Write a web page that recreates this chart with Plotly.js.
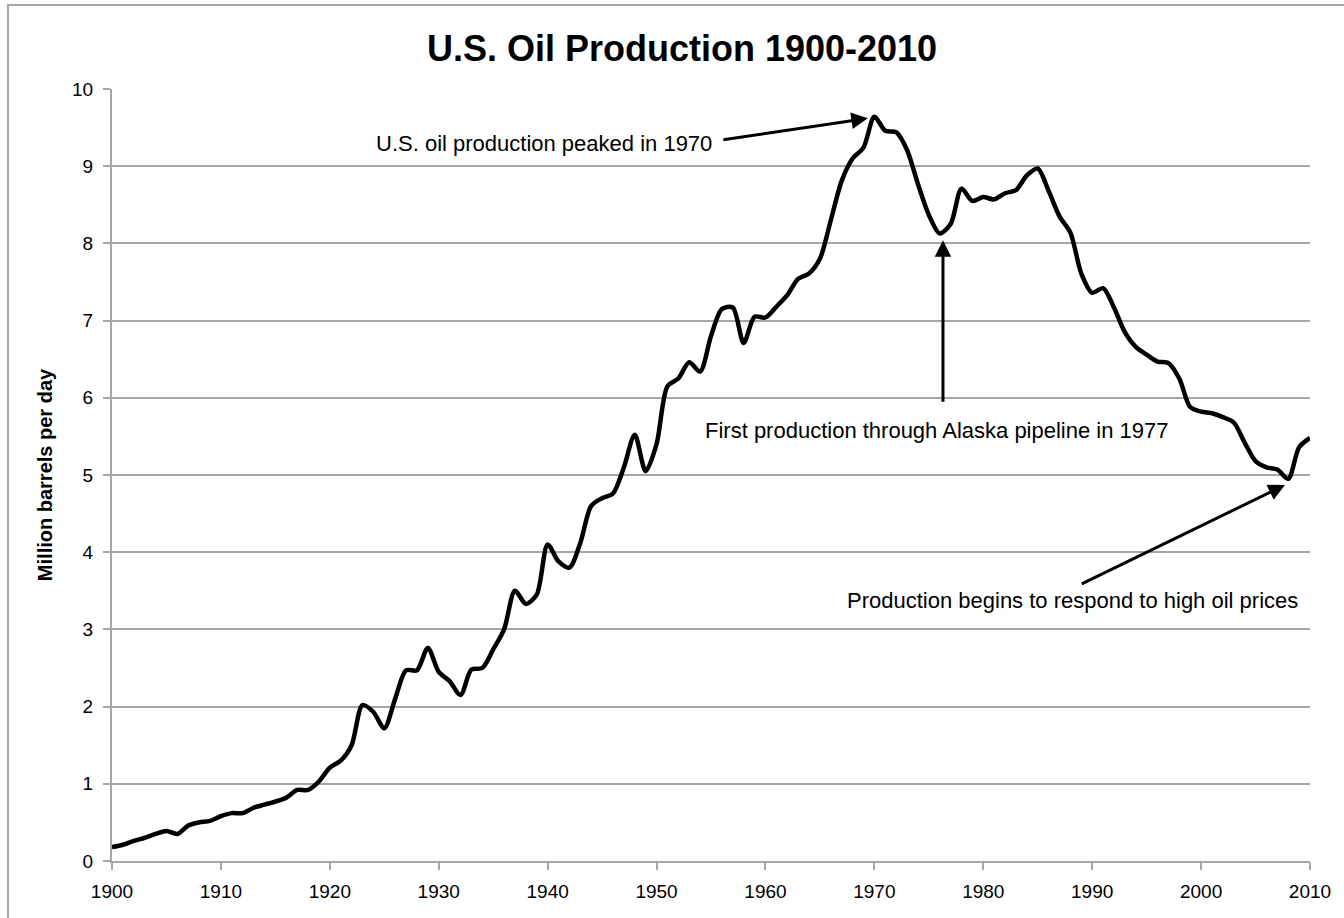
<!DOCTYPE html>
<html>
<head>
<meta charset="utf-8">
<script src="https://cdn.plot.ly/plotly-3.0.1.min.js"></script>
<style>
  html, body { margin: 0; padding: 0; background: #ffffff; }
  #chart { width: 1344px; height: 918px; }
</style>
</head>
<body>
<div id="chart"></div>
<script>
// Years 1900-2010
const years = [
  1900,1901,1902,1903,1904,1905,1906,1907,1908,1909,
  1910,1911,1912,1913,1914,1915,1916,1917,1918,1919,
  1920,1921,1922,1923,1924,1925,1926,1927,1928,1929,
  1930,1931,1932,1933,1934,1935,1936,1937,1938,1939,
  1940,1941,1942,1943,1944,1945,1946,1947,1948,1949,
  1950,1951,1952,1953,1954,1955,1956,1957,1958,1959,
  1960,1961,1962,1963,1964,1965,1966,1967,1968,1969,
  1970,1971,1972,1973,1974,1975,1976,1977,1978,1979,
  1980,1981,1982,1983,1984,1985,1986,1987,1988,1989,
  1990,1991,1992,1993,1994,1995,1996,1997,1998,1999,
  2000,2001,2002,2003,2004,2005,2006,2007,2008,2009,
  2010
];
// Million barrels per day
const production = [
  0.18,0.21,0.26,0.30,0.35,0.39,0.35,0.46,0.50,0.52,
  0.58,0.62,0.62,0.69,0.73,0.77,0.82,0.92,0.92,1.03,
  1.21,1.30,1.50,2.02,1.93,1.72,2.10,2.47,2.47,2.76,
  2.45,2.33,2.15,2.48,2.50,2.74,3.00,3.50,3.33,3.45,
  4.10,3.88,3.80,4.12,4.60,4.70,4.76,5.10,5.52,5.05,
  5.40,6.15,6.25,6.46,6.34,6.80,7.15,7.17,6.71,7.05,
  7.04,7.18,7.33,7.54,7.61,7.80,8.30,8.81,9.10,9.24,
  9.64,9.46,9.44,9.21,8.77,8.37,8.13,8.25,8.71,8.55,
  8.60,8.57,8.65,8.69,8.88,8.97,8.68,8.35,8.14,7.61,
  7.36,7.42,7.17,6.85,6.66,6.56,6.47,6.45,6.25,5.88,
  5.82,5.80,5.75,5.68,5.42,5.18,5.10,5.07,4.95,5.36,
  5.48
];
const xTickVals = [1900,1910,1920,1930,1940,1950,1960,1970,1980,1990,2000,2010];
const yTickVals = [0,1,2,3,4,5,6,7,8,9,10];

const titleText = "U.S. Oil Production 1900-2010";
const yTitleText = "Million barrels per day";
const note1 = "U.S. oil production peaked in 1970";
const note2 = "First production through Alaska pipeline in 1977";
const note3 = "Production begins to respond to high oil prices";

const FONT = "Liberation Sans, Arial, Helvetica, sans-serif";
const GRID = "#a6a6a6";

const trace = {
  x: years,
  y: production,
  type: "scatter",
  mode: "lines",
  line: { color: "#000000", width: 4.5, shape: "spline", smoothing: 0.8 },
  hoverinfo: "x+y",
  showlegend: false
};

function arrow(xh, yh, xt, yt) {
  return {
    x: xh, y: yh, xref: "x", yref: "y",
    ax: xt, ay: yt, axref: "x", ayref: "y",
    text: "", showarrow: true,
    arrowhead: 2, arrowsize: 1.1, arrowwidth: 3, arrowcolor: "#000000",
    standoff: 0, startstandoff: 0
  };
}

const layout = {
  width: 1344, height: 918,
  paper_bgcolor: "#ffffff",
  plot_bgcolor: "#ffffff",
  margin: { l: 112, r: 34, t: 89, b: 57, pad: 0 },
  font: { family: FONT, color: "#000000", size: 18 },
  title: {
    text: "<b>" + titleText + "</b>",
    font: { family: FONT, size: 36, color: "#000000" },
    x: 682 / 1344, xanchor: "center", xref: "container",
    y: 1 - 48 / 918, yanchor: "middle", yref: "container"
  },
  xaxis: {
    range: [1900, 2010],
    tickmode: "array", tickvals: xTickVals, ticktext: xTickVals.map(String),
    showgrid: false, zeroline: false,
    showline: true, linecolor: GRID, linewidth: 2,
    ticks: "outside", ticklen: 7, tickwidth: 2, tickcolor: GRID,
    tickfont: { family: FONT, size: 19, color: "#000000" },
    ticklabelstandoff: 5,
    fixedrange: true
  },
  yaxis: {
    range: [0, 10],
    tickmode: "array", tickvals: yTickVals, ticktext: yTickVals.map(String),
    showgrid: true, gridcolor: GRID, gridwidth: 1.5,
    zeroline: false,
    showline: true, linecolor: GRID, linewidth: 2,
    ticks: "outside", ticklen: 7, tickwidth: 2, tickcolor: GRID,
    tickfont: { family: FONT, size: 19, color: "#000000" },
    ticklabelstandoff: 6,
    title: {
      text: "<b>" + yTitleText + "</b>",
      font: { family: FONT, size: 20, color: "#000000" },
      standoff: 14
    },
    fixedrange: true
  },
  shapes: [
    {
      type: "rect", xref: "paper", yref: "paper",
      x0: -104 / 1198, x1: 1.04, y0: -0.09, y1: 1 + 84 / 772,
      line: { color: "#a8a8a8", width: 2 }, fillcolor: "rgba(0,0,0,0)", layer: "below"
    }
  ],
  annotations: [
    {
      x: 1955.3, y: 9.30, xref: "x", yref: "y",
      text: note1, showarrow: false, xanchor: "right", yanchor: "middle",
      font: { family: FONT, size: 22, color: "#000000" }
    },
    arrow(1969.4, 9.62, 1956.0, 9.34),
    {
      x: 1975.76, y: 5.58, xref: "x", yref: "y",
      text: note2, showarrow: false, xanchor: "center", yanchor: "middle",
      font: { family: FONT, size: 22, color: "#000000" }
    },
    arrow(1976.3, 8.04, 1976.3, 5.93),
    {
      x: 1988.2, y: 3.38, xref: "x", yref: "y",
      text: note3, showarrow: false, xanchor: "center", yanchor: "middle",
      font: { family: FONT, size: 22, color: "#000000" }
    },
    arrow(2007.7, 4.87, 1988.9, 3.58)
  ]
};

Plotly.newPlot("chart", [trace], layout, { displayModeBar: false, staticPlot: false });
</script>
</body>
</html>
